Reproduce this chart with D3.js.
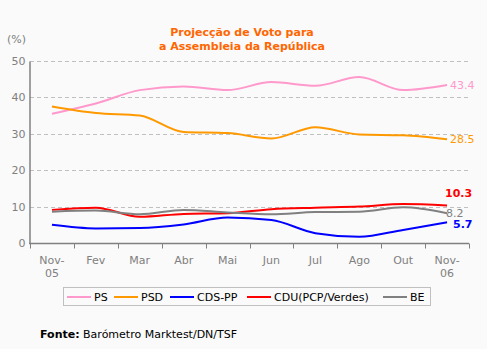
<!DOCTYPE html>
<html><head><meta charset="utf-8">
<script src="https://cdn.jsdelivr.net/npm/d3@7"></script>
<style>
html,body{margin:0;padding:0;background:#fafafa;}
svg{display:block;font-family:"DejaVu Sans",Verdana,sans-serif;}
</style></head>
<body>
<script>
const months = [["Nov-","05"],["Fev"],["Mar"],["Abr"],["Mai"],["Jun"],["Jul"],["Ago"],["Out"],["Nov-","06"]];
const seriesNames = ["PS","PSD","CDS-PP","CDU(PCP/Verdes)","BE"];
const ps  = [35.5, 38.3, 42.0, 43.0, 42.0, 44.2, 43.2, 45.6, 42.0, 43.4];
const psd = [37.5, 35.7, 35.0, 30.5, 30.2, 28.7, 31.8, 29.8, 29.6, 28.5];
const cds = [5.0, 4.0, 4.1, 5.1, 7.0, 6.3, 2.7, 1.7, 3.6, 5.7];
const cdu = [9.1, 9.7, 7.2, 8.0, 8.2, 9.3, 9.7, 10.0, 10.7, 10.3];
const be  = [8.6, 8.9, 7.9, 9.1, 8.4, 7.9, 8.5, 8.6, 9.8, 8.2];
const yTicks = [0,10,20,30,40,50];
const endLabels = ["43.4","28.5","5.7","10.3","8.2"];

const colors = ["#ff99cc","#ff9900","#0000ff","#ff0000","#808080"];
const allSeries = [ps, psd, cds, cdu, be];

const W = 487, H = 349;
const svg = d3.select("body").append("svg").attr("width", W).attr("height", H);
svg.append("rect").attr("width", W).attr("height", H).attr("fill", "#fafafa");

const x = d3.scaleBand().domain(d3.range(months.length)).range([30, 469]);
const y = d3.scaleLinear().domain([0, 50]).range([243, 61]);

// title
svg.append("text").attr("x", 242).attr("y", 36).attr("text-anchor","middle")
  .attr("fill","#ff6600").attr("font-weight","bold").attr("font-size","11px")
  .text("Projecção de Voto para");
svg.append("text").attr("x", 242).attr("y", 50).attr("text-anchor","middle")
  .attr("fill","#ff6600").attr("font-weight","bold").attr("font-size","11px")
  .text("a Assembleia da República");
svg.append("text").attr("x", 7).attr("y", 43).attr("fill","#808080").attr("font-size","11px").text("(%)");

// grid
svg.append("g").selectAll("line").data(yTicks.filter(d=>d>0)).join("line")
  .attr("x1", 30).attr("x2", 468).attr("y1", d=>Math.round(y(d))+0.5).attr("y2", d=>Math.round(y(d))+0.5)
  .attr("stroke","#c0c0c0").attr("stroke-dasharray","4,3");

// y axis
const yAxis = svg.append("g").attr("transform","translate(29.5,0)")
  .call(d3.axisLeft(y).tickValues(yTicks).tickSize(0).tickPadding(4));
yAxis.select(".domain").attr("stroke","#808080").attr("stroke-width",1.5);
yAxis.selectAll("text").attr("fill","#808080").attr("font-size","11px").attr("font-family","DejaVu Sans");

// x axis
const xAxisG = svg.append("g").attr("transform","translate(0,243.5)");
xAxisG.append("line").attr("x1",29).attr("x2",469).attr("stroke","#808080").attr("stroke-width",1.5);
const tickPos = d3.range(months.length+1).map(i => i < months.length ? x(i) : x.range()[1]);
xAxisG.selectAll(".tk").data(tickPos).join("line").attr("class","tk")
  .attr("x1", d=>Math.round(d)+0.5).attr("x2", d=>Math.round(d)+0.5).attr("y1",0).attr("y2",5)
  .attr("stroke","#808080");
const xl = xAxisG.selectAll(".ml").data(months).join("text").attr("class","ml")
  .attr("x", (d,i)=>x(i)+x.bandwidth()/2).attr("y", 20).attr("text-anchor","middle")
  .attr("fill","#808080").attr("font-size","11px");
xl.each(function(d){
  const t = d3.select(this);
  d.forEach((s,j)=>t.append("tspan").attr("x", t.attr("x")).attr("dy", j===0?0:13).text(s));
});

// lines
const line = d3.line().x((d,i)=>x(i)+x.bandwidth()/2).y(d=>y(d)).curve(d3.curveMonotoneX);
allSeries.forEach((s,k)=>{
  svg.append("path").datum(s).attr("d", line).attr("fill","none")
    .attr("stroke", colors[k]).attr("stroke-width", 2);
});

// end labels (series order: PS, PSD, CDS-PP, CDU, BE)
const lblPos = [[450,89,"normal"],[450,143,"normal"],[453,228,"bold"],[445,197,"bold"],[446,217,"normal"]];
endLabels.forEach((t,k)=>{
  svg.append("text").attr("x", lblPos[k][0]).attr("y", lblPos[k][1])
    .attr("fill", colors[k]).attr("font-size","11px").attr("font-weight", lblPos[k][2]).text(t);
});

// legend
svg.append("rect").attr("x",63.5).attr("y",287.5).attr("width",367).attr("height",18)
  .attr("fill","#fafafa").attr("stroke","#c0c0c0");
const legX = [67,114,170,247,383];
seriesNames.forEach((n,k)=>{
  svg.append("line").attr("x1",legX[k]).attr("x2",legX[k]+24).attr("y1",297).attr("y2",297)
    .attr("stroke",colors[k]).attr("stroke-width",2);
  svg.append("text").attr("x",legX[k]+27).attr("y",301).attr("fill","#000").attr("font-size","11px").text(n);
});

// footer
const f = svg.append("text").attr("x",40).attr("y",338).attr("font-size","11px").attr("fill","#000");
f.append("tspan").attr("font-weight","bold").text("Fonte:");
f.append("tspan").text(" Barómetro Marktest/DN/TSF");
</script>
</body></html>
